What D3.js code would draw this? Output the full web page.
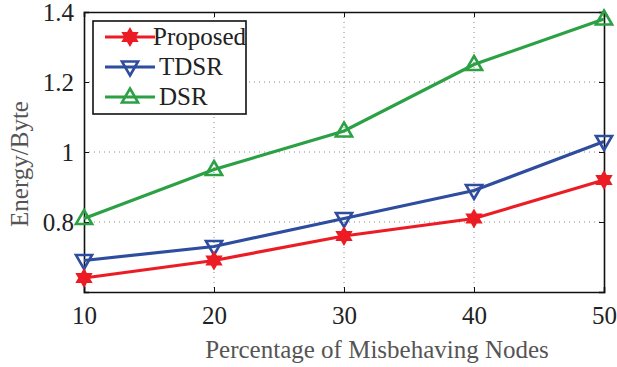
<!DOCTYPE html>
<html>
<head>
<meta charset="utf-8">
<script src="https://cdn.jsdelivr.net/npm/d3@7"></script>
<style>
  body { margin: 0; background: #fff; }
  svg text { font-family: "Liberation Serif", "DejaVu Serif", serif; }
</style>
</head>
<body>
<svg width="617" height="367"></svg>
<script>
// chart data
const xValues = [10, 20, 30, 40, 50];
const proposed = [0.64, 0.69, 0.76, 0.81, 0.92];
const tdsr = [0.69, 0.73, 0.81, 0.89, 1.03];
const dsr = [0.81, 0.95, 1.06, 1.25, 1.38];
const yTicks = [0.8, 1, 1.2, 1.4];
const seriesNames = ["Proposed", "TDSR", "DSR"];

const margin = { top: 12, right: 13, bottom: 75, left: 84 };
const width = 617 - margin.left - margin.right;
const height = 367 - margin.top - margin.bottom;

const svg = d3.select("svg")
  .append("g")
  .attr("transform", `translate(${margin.left},${margin.top})`);

const x = d3.scaleLinear().domain([10, 50]).range([0, width]);
const y = d3.scaleLinear().domain([0.6, 1.4]).range([height, 0]);

// dotted grid
svg.append("g")
  .selectAll("line")
  .data(xValues.slice(1, -1))
  .enter().append("line")
  .attr("x1", d => x(d)).attr("x2", d => x(d))
  .attr("y1", 0).attr("y2", height)
  .attr("stroke", "#888").attr("stroke-width", 1)
  .attr("stroke-dasharray", "1,4");

svg.append("g")
  .selectAll("line")
  .data(yTicks.slice(0, -1))
  .enter().append("line")
  .attr("x1", 0).attr("x2", width)
  .attr("y1", d => y(d)).attr("y2", d => y(d))
  .attr("stroke", "#888").attr("stroke-width", 1)
  .attr("stroke-dasharray", "1,4");

// axes
const xAxis = svg.append("g")
  .attr("transform", `translate(0,${height})`)
  .call(d3.axisBottom(x).tickValues(xValues).tickSize(-5).tickPadding(14).tickFormat(d3.format("d")));
const yAxis = svg.append("g")
  .call(d3.axisLeft(y).tickValues(yTicks).tickSize(-5).tickPadding(10).tickFormat(d => d3.format("")(d)));
svg.append("g")
  .attr("transform", `translate(${width},0)`)
  .call(d3.axisRight(y).tickValues(yTicks).tickSize(-5).tickFormat(""));
svg.append("g")
  .call(d3.axisTop(x).tickValues(xValues).tickSize(-5).tickFormat(""));

svg.selectAll(".domain").attr("stroke", "#111").attr("stroke-width", 1.6);
svg.selectAll(".tick line").attr("stroke", "#111");
[xAxis, yAxis].forEach(a => a.attr("font-size", 25).attr("font-family", null));
[xAxis, yAxis].forEach(a => a.selectAll("text")
  .attr("fill", "#222")
  .style("font-family", "'Liberation Serif', 'Times New Roman', serif"));

// axis labels
svg.append("text")
  .attr("x", width / 2 + 33)
  .attr("y", height + 66)
  .attr("text-anchor", "middle")
  .attr("font-size", 25)
  .attr("fill", "#555")
  .text("Percentage of Misbehaving Nodes");

svg.append("text")
  .attr("transform", `translate(${-56},${height / 2 + 12}) rotate(-90)`)
  .attr("text-anchor", "middle")
  .attr("font-size", 25)
  .attr("fill", "#555")
  .text("Energy/Byte");

// markers
function hexagram(s) {
  const p1 = [], p2 = [];
  for (let i = 0; i < 3; i++) {
    const a1 = -Math.PI / 2 + i * 2 * Math.PI / 3;
    const a2 = Math.PI / 2 + i * 2 * Math.PI / 3;
    p1.push([s * Math.cos(a1), s * Math.sin(a1)]);
    p2.push([s * Math.cos(a2), s * Math.sin(a2)]);
  }
  return "M" + p1.join("L") + "Z M" + p2.join("L") + "Z";
}
function triangle(s, down) {
  const k = down ? -1 : 1;
  return `M0,${-k * s}L${s * 0.95},${k * s * 0.65}L${-s * 0.95},${k * s * 0.65}Z`;
}

const series = [
  { name: seriesNames[0], values: proposed, color: "#ec1c24", marker: "hex" },
  { name: seriesNames[1], values: tdsr, color: "#2e4d9f", marker: "down" },
  { name: seriesNames[2], values: dsr, color: "#2ca044", marker: "up" }
];

function drawMarker(g, s, cx, cy) {
  if (s.marker === "hex") {
    g.append("path")
      .attr("transform", `translate(${cx},${cy})`)
      .attr("d", hexagram(8.5))
      .attr("fill", s.color).attr("stroke", s.color).attr("stroke-width", 1.5);
  } else {
    g.append("path")
      .attr("transform", `translate(${cx},${cy})`)
      .attr("d", triangle(8.5, s.marker === "down"))
      .attr("fill", "none").attr("stroke", s.color).attr("stroke-width", 2.6);
  }
}

const line = d3.line()
  .x((d, i) => x(xValues[i]))
  .y(d => y(d));

series.slice().reverse().forEach(s => {
  svg.append("path")
    .datum(s.values)
    .attr("fill", "none")
    .attr("stroke", s.color)
    .attr("stroke-width", 3.2)
    .attr("d", line);
  const g = svg.append("g");
  s.values.forEach((v, i) => drawMarker(g, s, x(xValues[i]), y(v)));
});

// legend
const legend = svg.append("g").attr("transform", "translate(9,9)");
legend.append("rect")
  .attr("width", 153).attr("height", 93)
  .attr("fill", "#fff").attr("stroke", "#111").attr("stroke-width", 1.6);
series.forEach((s, i) => {
  const ly = 16 + i * 30;
  legend.append("line")
    .attr("x1", 12).attr("x2", 62).attr("y1", ly).attr("y2", ly)
    .attr("stroke", s.color).attr("stroke-width", 3.2);
  drawMarker(legend, s, 37, ly);
  legend.append("text")
    .attr("x", i === 0 ? 60 : 66)
    .attr("y", ly + 8)
    .attr("font-size", 25)
    .attr("fill", "#222")
    .text(s.name);
});
</script>
</body>
</html>
